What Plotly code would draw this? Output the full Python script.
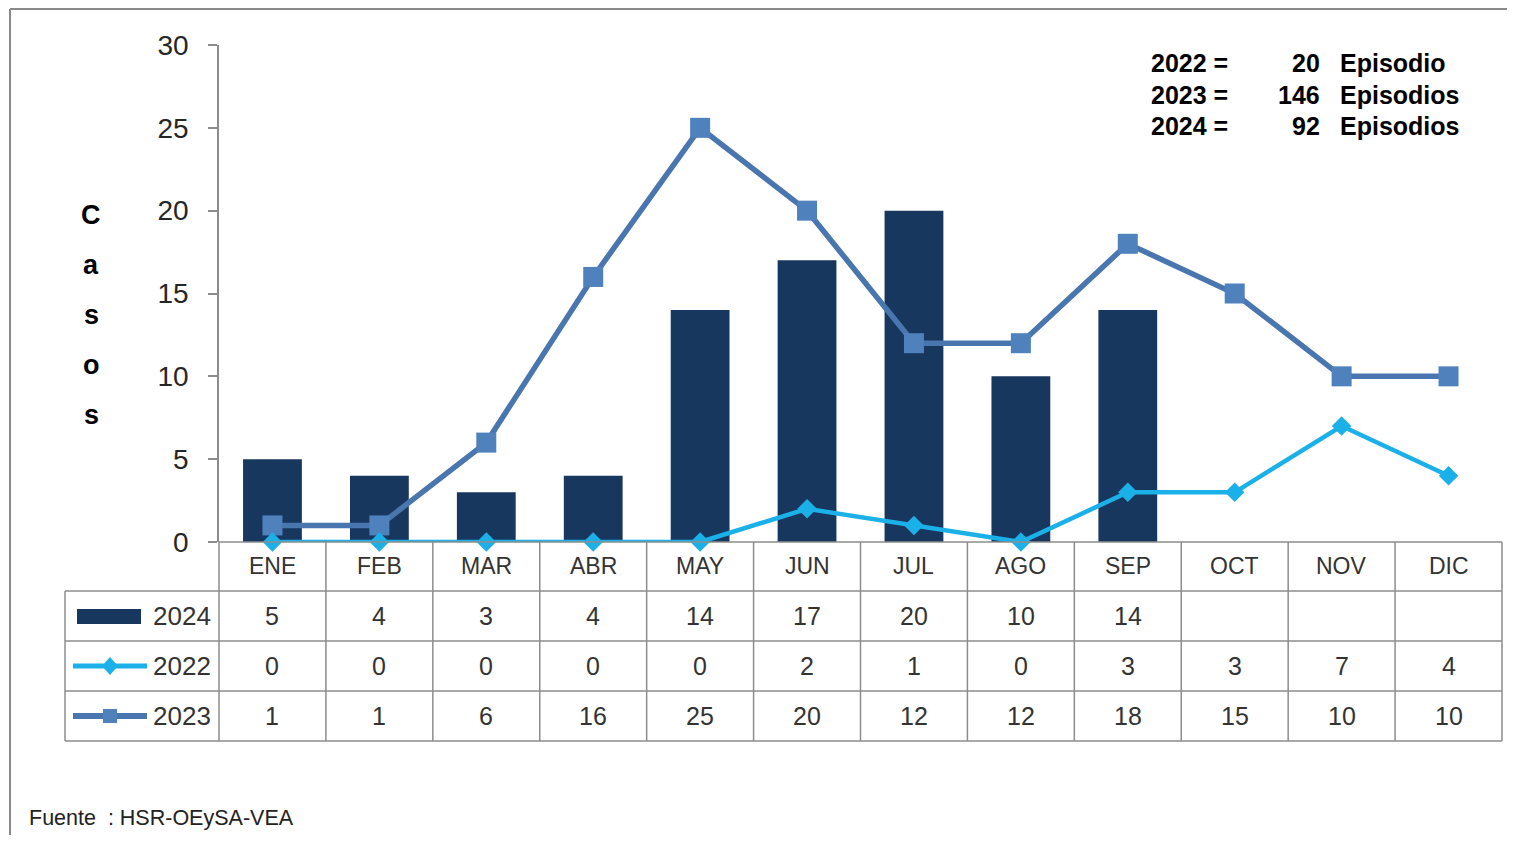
import plotly.graph_objects as go

months = ["ENE", "FEB", "MAR", "ABR", "MAY", "JUN", "JUL", "AGO", "SEP", "OCT", "NOV", "DIC"]
casos_2024 = [5, 4, 3, 4, 14, 17, 20, 10, 14, None, None, None]
casos_2022 = [0, 0, 0, 0, 0, 2, 1, 0, 3, 3, 7, 4]
casos_2023 = [1, 1, 6, 16, 25, 20, 12, 12, 18, 15, 10, 10]
series_names = ["2024", "2022", "2023"]
totals_years = ["2022 =", "2023 =", "2024 ="]
totals_nums = ["20", "146", "92"]
totals_words = ["Episodio", "Episodios", "Episodios"]
y_ticks = [0, 5, 10, 15, 20, 25, 30]
source_text = "Fuente  : HSR-OEySA-VEA"
axis_title = "Casos"

OFF = 8  # page body margin
W, H = 1515 - 2 * OFF, 843 - 2 * OFF
L, R, T, B = 219, 1502, 45, 542  # plot area pixel edges (page coords)
PW, PH = R - L, B - T

C_BAR = "#17375E"
C_2022 = "#1CB0E8"
C_2023 = "#4A76B0"
C_2023_M = "#4F81BD"
GRID = "#8C8C8C"
TXT = "#333333"

def px(xp):
    return (xp - L) / PW

def py(yp):
    return (B - yp) / PH

fig = go.Figure()
fig.add_trace(go.Bar(x=months, y=casos_2024, marker=dict(color=C_BAR, line=dict(width=0)),
                     width=0.55, name=series_names[0]))
fig.add_trace(go.Scatter(x=months, y=casos_2023, mode="lines+markers", name=series_names[2],
                         line=dict(color=C_2023, width=5.5),
                         marker=dict(symbol="square", size=20, color=C_2023_M),
                         cliponaxis=False))
fig.add_trace(go.Scatter(x=months, y=casos_2022, mode="lines+markers", name=series_names[1],
                         line=dict(color=C_2022, width=4.5),
                         marker=dict(symbol="diamond", size=15, color=C_2022),
                         cliponaxis=False))

shapes = []
annotations = []
n = len(months)

# outer frame (top and left)
shapes.append(dict(type="line", xref="paper", yref="paper", x0=px(10), x1=px(1515), y0=py(9), y1=py(9),
                   line=dict(color="#8A8A8A", width=2)))
shapes.append(dict(type="line", xref="paper", yref="paper", x0=px(10), x1=px(10), y0=py(9), y1=py(843),
                   line=dict(color="#8A8A8A", width=2)))

# data table grid
row_lines = [542, 591, 641, 691, 741]
for i, yl in enumerate(row_lines):
    x0 = L if i == 0 else 65
    shapes.append(dict(type="line", xref="paper", yref="paper", x0=px(x0), x1=1, y0=py(yl), y1=py(yl),
                       line=dict(color=GRID, width=1.5)))
for k in range(n + 1):
    shapes.append(dict(type="line", xref="paper", yref="paper", x0=k / n, x1=k / n, y0=py(542), y1=py(741),
                       line=dict(color=GRID, width=1.5)))
shapes.append(dict(type="line", xref="paper", yref="paper", x0=px(65), x1=px(65), y0=py(591), y1=py(741),
                   line=dict(color=GRID, width=1.5)))

# legend keys in table
shapes.append(dict(type="rect", xref="paper", yref="paper", x0=px(77), x1=px(141), y0=py(609), y1=py(624),
                   fillcolor=C_BAR, line=dict(width=0)))
shapes.append(dict(type="line", xref="paper", yref="paper", x0=px(73), x1=px(147), y0=py(666), y1=py(666),
                   line=dict(color=C_2022, width=5)))
shapes.append(dict(type="path", xref="paper", yref="paper",
                   path=f"M {px(110)},{py(657)} L {px(118)},{py(666)} L {px(110)},{py(675)} L {px(102)},{py(666)} Z",
                   fillcolor=C_2022, line=dict(width=0)))
shapes.append(dict(type="line", xref="paper", yref="paper", x0=px(73), x1=px(147), y0=py(716), y1=py(716),
                   line=dict(color=C_2023, width=6)))
shapes.append(dict(type="rect", xref="paper", yref="paper", x0=px(103), x1=px(117), y0=py(709), y1=py(723),
                   fillcolor=C_2023_M, line=dict(width=0)))

mfont = dict(family="Liberation Sans, Arial, sans-serif", size=23, color=TXT)
tfont = dict(family="Liberation Sans, Arial, sans-serif", size=25, color=TXT)
row_centers = [566, 616, 666, 716]
for m in months:
    annotations.append(dict(x=m, y=py(row_centers[0]), xref="x", yref="paper", text=m, showarrow=False,
                            font=mfont, xanchor="center", yanchor="middle"))
for r, series in enumerate([casos_2024, casos_2022, casos_2023]):
    for m, v in zip(months, series):
        if v is None:
            continue
        annotations.append(dict(x=m, y=py(row_centers[r + 1]), xref="x", yref="paper", text=str(v),
                                showarrow=False, font=tfont, xanchor="center", yanchor="middle"))
    annotations.append(dict(x=px(213), y=py(row_centers[r + 1]), xref="paper", yref="paper",
                            text=series_names[r], showarrow=False,
                            font=dict(family="Liberation Sans, Arial, sans-serif", size=26, color=TXT),
                            xanchor="right", yanchor="middle"))

# vertical axis title
for i, ch in enumerate(axis_title):
    annotations.append(dict(x=px(91), y=py(215 + 50 * i), xref="paper", yref="paper",
                            text=ch.upper() if i == 0 else ch,
                            showarrow=False, font=dict(family="Liberation Sans, Arial, sans-serif", size=27,
                                                       color="#000000", weight="bold"),
                            xanchor="center", yanchor="middle"))

# totals box
nfont = dict(family="Liberation Sans, Arial, sans-serif", size=25, color="#000000", weight="bold")
for i in range(3):
    yy = py(63 + 31.5 * i)
    annotations.append(dict(x=px(1149), y=yy, xref="paper", yref="paper", text=totals_years[i], showarrow=False,
                            font=nfont, xanchor="left", yanchor="middle"))
    annotations.append(dict(x=px(1322), y=yy, xref="paper", yref="paper", text=totals_nums[i], showarrow=False,
                            font=nfont, xanchor="right", yanchor="middle"))
    annotations.append(dict(x=px(1338), y=yy, xref="paper", yref="paper", text=totals_words[i], showarrow=False,
                            font=nfont, xanchor="left", yanchor="middle"))

# source
annotations.append(dict(x=px(27), y=py(818), xref="paper", yref="paper", text=source_text, showarrow=False,
                        font=dict(family="Liberation Sans, Arial, sans-serif", size=21.5, color="#222222"),
                        xanchor="left", yanchor="middle"))

fig.update_layout(
    width=W, height=H,
    margin=dict(l=L - OFF, r=W - (R - OFF), t=T - OFF, b=H - (B - OFF), autoexpand=False),
    paper_bgcolor="white", plot_bgcolor="white",
    showlegend=False,
    shapes=shapes, annotations=annotations,
    bargap=0.45,
)
fig.update_xaxes(range=[-0.5, n - 0.5], showticklabels=False, showgrid=False, zeroline=False,
                 showline=False, ticks="")
fig.update_yaxes(range=[0, 30], tickvals=y_ticks, showgrid=False, zeroline=False,
                 showline=True, linecolor=GRID, linewidth=1.5, ticks="outside", ticklen=9,
                 tickcolor=GRID, tickwidth=1.5, ticklabelstandoff=14,
                 tickfont=dict(family="Liberation Sans, Arial, sans-serif", size=28, color="#262626"))

fig.write_html("out.html")
